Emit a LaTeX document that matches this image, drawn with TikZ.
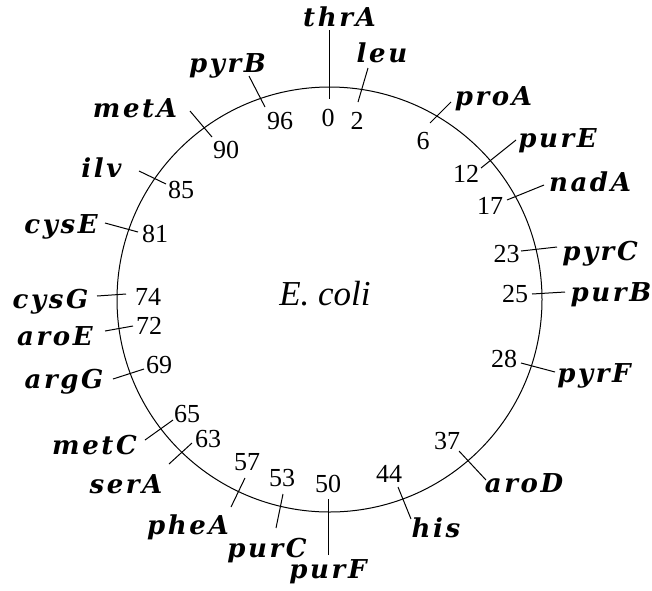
\documentclass[tikz,border=0pt]{standalone}
\usepackage{fontspec}
\setmainfont{Liberation Serif}
\newfontfamily\genefont{DejaVu Serif}[LetterSpace=10]
\begin{document}
\begin{tikzpicture}[x=1pt,y=-1pt,
  genelabel/.style={inner sep=0pt,anchor=base,
    font=\genefont\bfseries\itshape\fontsize{26}{26}\selectfont},
  minlabel/.style={inner sep=0pt,anchor=center,
    font=\fontsize{26}{26}\selectfont},
  tickline/.style={line width=1pt},
  chromosome/.style={line width=1pt}]
\useasboundingbox (0,0) rectangle (652,590);

% the circular chromosome
\coordinate (ctr) at (329.5,299.5);
\draw[chromosome] (ctr) circle[radius=212.5];
\node[inner sep=0pt,anchor=base,font=\itshape\fontsize{35}{35}\selectfont]
  (organism) at (325,305) {E. coli};

% gene / outer tick end / inner tick end / label position / minute / minute position
\foreach \g/\ox/\oy/\ix/\iy/\lx/\ly/\m/\mx/\my in {
  thrA/329/30/329/99/339.5/26/0/328/118,
  leu/368/68/358/102/382/62/2/357/121,
  proA/451/102/430/123/493.5/105/6/423/141.5,
  purE/516/140/481/168/557.5/147/12/466/174,
  nadA/544/185/507/200/590/191/17/490/206,
  pyrC/557/247/521/251/600/260/23/506.5/254,
  purB/565/292/532/294/611/301/25/515/294,
  pyrF/555/372/521/363/594/382/28/504/359,
  aroD/486/480/459/451/524/492/37/447/441,
  his/411/519/398/487/436/537/44/389/474,
  purF/328/555/328/499/328/578/50/328/484,
  purC/276/528/283/494/267/557/53/282/478,
  pheA/231/507/245/478/188/534/57/247/462,
  serA/169/464/192/443/126/493/63/208/439,
  metC/145/440/173/420/94.5/454/65/187/414,
  argG/113/379/144/369/64/388/69/159/365,
  aroE/105/331/133/326/55/345/72/149/326,
  cysG/97/296/126/294/50.5/308/74/148/297,
  cysE/105/223/138/232/61/233/81/155/234,
  ilv/139/171/166/184/101.5/177/85/181/190,
  metA/190/111/212/137/135/117/90/226/150,
  pyrB/249/76/265/107/227.5/72/96/280/121}
{
  \coordinate (\g-out) at (\ox,\oy);
  \coordinate (\g-in) at (\ix,\iy);
  \draw[tickline] (\g-out) -- (\g-in);
  \node[genelabel] (\g-name) at (\lx,\ly) {\g};
  \node[minlabel] (\g-min) at (\mx,\my) {\m};
}
\end{tikzpicture}
\end{document}
